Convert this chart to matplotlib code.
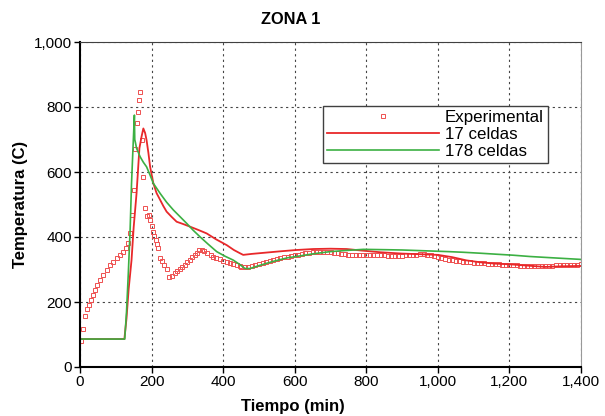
import matplotlib
matplotlib.use("Agg")
import matplotlib.pyplot as plt
from matplotlib.ticker import FuncFormatter, MultipleLocator

plt.rcParams["font.family"] = ["Liberation Sans", "DejaVu Sans"]

# Experimental measurements (Tiempo min, Temperatura C)
exp_t = [2, 9, 15, 20, 26, 30, 35, 42, 48, 56, 65, 75, 84, 93, 102, 112, 121, 129,
         134, 140, 144, 151, 155, 158, 161, 166, 168, 172, 177, 183, 186, 193, 196,
         200, 203, 208, 211, 214, 219, 224, 228, 235, 242, 250, 256, 265, 272, 279,
         286, 293, 300, 307, 314, 321, 327, 333, 340, 347, 356, 365, 372, 380, 391,
         400, 410, 420, 428, 438, 447,
         450, 460, 470, 480, 490, 500, 510, 520, 530, 540, 550, 560, 570, 580, 590,
         600, 610, 620, 630, 640, 650, 660, 670, 680, 690, 700, 710, 720, 730, 740,
         750, 760, 770, 780, 790, 800, 810, 820, 830, 840, 850, 860, 870, 880, 890,
         900, 910, 920, 930, 940, 950, 960, 970, 980, 990, 1000, 1010, 1020, 1030,
         1040, 1050, 1060, 1070, 1080, 1090, 1100, 1110, 1120, 1130, 1140, 1150,
         1160, 1170, 1180, 1190, 1200, 1210, 1220, 1230, 1240, 1250, 1260, 1270,
         1280, 1290, 1300, 1310, 1320, 1330, 1340, 1350, 1360, 1370, 1380, 1390, 1400]
exp_T = [80, 116, 157, 177, 191, 206, 221, 237, 252, 268, 283, 298, 314, 324, 334, 345, 355, 365,
         381, 411, 468, 545, 670, 750, 784, 822, 847, 698, 584, 488, 465, 468, 452,
         435, 416, 404, 391, 378, 365, 336, 326, 314, 301, 278, 280, 288, 294, 301,
         308, 314, 322, 329, 337, 345, 352, 360, 361, 358, 350, 344, 337, 334, 331,
         327, 324, 320, 317, 313, 311,
         309, 307, 308, 311, 314, 317, 320, 323, 326, 329, 332, 335, 337, 340, 342,
         344, 346, 348, 350, 352, 353, 354, 355, 355, 355, 354, 352, 350, 348, 347,
         346, 345, 345, 345, 345, 345, 344, 344, 344, 344, 344, 343, 343, 343, 343,
         343, 344, 345, 346, 346, 347, 347, 346, 345, 342, 338, 335, 332, 330,
         328, 326, 325, 324, 323, 322, 321, 320, 320, 319, 318, 318,
         317, 316, 315, 315, 314, 313, 313, 312, 312, 311, 311, 310,
         310, 310, 311, 311, 312, 313, 313, 314, 314, 315, 315, 315, 316]

# Simulation, 17 celdas
c17_t = [0, 124, 130, 136, 144, 150, 158, 166, 172, 177, 182, 186, 191, 196, 205, 214,
         224, 233, 242, 256, 270, 288, 307, 330, 354, 380, 410, 430, 447, 456, 480,
         520, 560, 605, 652, 700, 745, 790, 840, 900, 950, 1000, 1040, 1080, 1120,
         1160, 1200, 1250, 1300, 1350, 1400]
c17_T = [86, 86, 150, 240, 329, 430, 534, 673, 709, 734, 720, 698, 660, 616, 565, 535,
         514, 495, 478, 462, 447, 440, 432, 422, 411, 393, 375, 360, 350, 345, 348,
         352, 356, 360, 363, 364, 363, 358, 353, 349, 347, 345, 338, 328, 322,
         318, 316, 312, 308, 310, 311]

# Simulation, 178 celdas
c178_t = [0, 125, 130, 135, 140, 144, 149, 152, 153, 155, 158, 163, 168, 177, 186, 196,
          205, 224, 242, 261, 280, 298, 316, 335, 358, 382, 405, 428, 447, 461, 475,
          500, 540, 580, 605, 650, 699, 750, 792, 850, 900, 978, 1030, 1071, 1120,
          1164, 1210, 1257, 1320, 1400]
c178_T = [86, 86, 170, 288, 420, 565, 698, 775, 700, 690, 673, 660, 647, 630, 616, 590,
          565, 534, 507, 483, 462, 442, 421, 401, 378, 355, 341, 329, 315, 303, 303,
          312, 325, 336, 340, 348, 355, 359, 362, 361, 360, 357, 355, 353, 350,
          347, 344, 340, 336, 331]

red = "#e8282a"
green = "#3cb043"

fig = plt.figure(figsize=(6.05, 4.16), dpi=100)
ax = fig.add_axes([80 / 605, 49 / 416, 501 / 605, 325 / 416])

ax.plot(exp_t, exp_T, linestyle="none", marker="s", markersize=2.8,
        markerfacecolor="none", markeredgecolor="#ee5050", markeredgewidth=0.7,
        label="Experimental")
ax.plot(c17_t, c17_T, color=red, linewidth=1.3, label="17 celdas")
ax.plot(c178_t, c178_T, color=green, linewidth=1.2, label="178 celdas")

ax.set_xlim(0, 1400)
ax.set_ylim(0, 1000)
ax.xaxis.set_major_locator(MultipleLocator(200))
ax.yaxis.set_major_locator(MultipleLocator(200))
fmt = FuncFormatter(lambda v, p: f"{int(v):,}")
ax.xaxis.set_major_formatter(fmt)
ax.yaxis.set_major_formatter(fmt)
ax.tick_params(labelsize=11, length=4, width=1, direction="out", pad=2)
ax.grid(True, linestyle=(0, (2, 3)), color="#444444", linewidth=0.8)

ax.spines["left"].set_linewidth(1.5)
ax.spines["bottom"].set_linewidth(1.5)
ax.spines["top"].set_color("#404040")
ax.spines["right"].set_color("#999999")

title = ax.set_title("ZONA 1", fontsize=11.8, fontweight="bold", pad=13)
title.set_x(0.421)
ax.set_xlabel("Tiempo (min)", fontsize=12, fontweight="bold", labelpad=4)
ax.xaxis.set_label_coords(0.425, -0.1)
ax.xaxis.label.set_verticalalignment("top")
ax.set_ylabel("Temperatura (C)", fontsize=12, fontweight="bold", labelpad=4)

leg = ax.legend(loc="upper left", bbox_to_anchor=(0.485, 0.803), borderaxespad=0,
                fontsize=12.2, handlelength=6.6, numpoints=1, fancybox=False,
                framealpha=1, edgecolor="#404040", labelspacing=0.1,
                borderpad=0.25, handletextpad=0.35, markerscale=1.0)
leg.get_frame().set_linewidth(1.0)

fig.savefig("out.png", dpi=100)
